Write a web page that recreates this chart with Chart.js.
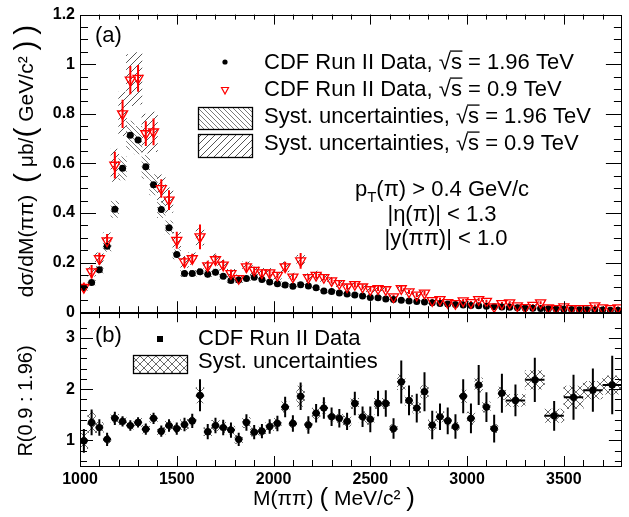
<!DOCTYPE html>
<html><head><meta charset="utf-8">
<script src="https://cdn.jsdelivr.net/npm/chart.js@4.4.1/dist/chart.umd.min.js"></script>
<style>html,body{margin:0;padding:0;background:#fff;}#wrap{position:relative;width:629px;height:517px;}</style>
</head><body><div id="wrap"><canvas id="c" width="629" height="517"></canvas></div>
<script>
// ---------------- data ----------------
const massTop = [1020,1060,1100,1140,1180,1220,1260,1300,1340,1380,1420,1460,1500,1540,1580,1620,1660,1700,1740,1780,
  1820,1860,1900,1940,1980,2020,2060,2100,2140,2180,2220,2260,2300,2340,2380,2420,2460,2500,2540,2580,
  2620,2660,2700,2740,2780,2820,2860,2900,2940,2980,3020,3060,3100,3140,3180,3220,3260,3300,3340,3380,
  3420,3460,3500,3540,3580,3620,3660,3700,3740,3780];
const xsec196 = [0.100,0.120,0.171,0.266,0.415,0.580,0.714,0.694,0.586,0.514,
  0.414,0.341,0.233,0.156,0.156,0.163,0.153,0.161,0.145,0.128,
  0.130,0.136,0.141,0.132,0.122,0.115,0.110,0.105,0.111,0.106,
  0.099,0.085,0.083,0.077,0.073,0.069,0.065,0.059,0.058,0.053,
  0.051,0.048,0.045,0.043,0.041,0.038,0.035,0.033,0.031,0.029,
  0.027,0.026,0.024,0.022,0.021,0.020,0.018,0.017,0.016,0.015,
  0.014,0.013,0.012,0.011,0.010,0.0095,0.009,0.0085,0.008,0.0075];
const xsec09 = [0.100,0.163,0.216,0.288,0.593,0.800,0.936,0.943,0.720,0.727,
  0.499,0.452,0.290,0.203,0.216,0.304,0.187,0.212,0.190,0.156,
  0.136,0.183,0.169,0.159,0.159,0.149,0.183,0.142,0.207,0.140,
  0.149,0.140,0.127,0.116,0.102,0.112,0.102,0.091,0.095,0.091,
  0.062,0.095,0.082,0.069,0.077,0.047,0.051,0.039,0.035,0.046,
  0.039,0.051,0.044,0.022,0.035,0.038,0.026,0.019,0.028,0.038,
  0.018,0.015,0.022,0.015,0.015,0.015,0.026,0.018,0.015,0.018];
const err09 = [0.020,0.027,0.024,0.027,0.054,0.057,0.057,0.054,0.050,0.054,
  0.037,0.040,0.034,0.020,0.020,0.050,0.020,0.020,0.020,0.016,
  0.014,0.020,0.014,0.013,0.013,0.013,0.020,0.013,0.032,0.012,
  0.012,0.012,0.011,0.010,0.010,0.012,0.010,0.009,0.009,0.009,
  0.008,0.012,0.009,0.008,0.010,0.007,0.007,0.006,0.006,0.007,
  0.006,0.007,0.006,0.005,0.006,0.006,0.005,0.005,0.005,0.006,
  0.005,0.004,0.005,0.004,0.004,0.004,0.005,0.004,0.004,0.005];
const SYS_REL_196 = 0.08;   // relative systematic uncertainty, 1.96 TeV
const SYS_REL_09 = 0.11;    // relative systematic uncertainty, 0.9 TeV
const TOP_BIN_HALF = 20;

const massRNarrow = [1020,1060,1100,1140,1180,1220,1260,1300,1340,1380,1420,1460,1500,1540,1580,1620,1660,1700,1740,1780,
  1820,1860,1900,1940,1980,2020,2060,2100,2140,2180,2220,2260,2300,2340,2380,2420,2460,2500,2540,2580,
  2620,2660,2700,2740,2780,2820,2860,2900,2940,2980,3020,3060,3100,3140,3180];
const ratioNarrow = [0.99,1.35,1.25,1.02,1.43,1.37,1.29,1.35,1.22,1.43,
  1.18,1.29,1.23,1.31,1.38,1.88,1.17,1.29,1.25,1.20,
  1.02,1.35,1.16,1.18,1.27,1.33,1.65,1.33,1.86,1.30,
  1.53,1.63,1.46,1.43,1.37,1.72,1.46,1.41,1.72,1.72,
  1.23,2.14,1.78,1.63,1.95,1.30,1.46,1.38,1.27,1.86,
  1.43,2.08,1.65,1.23,1.92];
const errRNarrow = [0.23,0.25,0.16,0.13,0.13,0.10,0.10,0.10,0.11,0.11,
  0.11,0.12,0.12,0.13,0.14,0.31,0.15,0.15,0.15,0.15,
  0.13,0.16,0.14,0.14,0.14,0.15,0.20,0.16,0.27,0.17,
  0.18,0.21,0.18,0.18,0.17,0.23,0.20,0.25,0.25,0.26,
  0.20,0.42,0.29,0.28,0.38,0.28,0.26,0.26,0.24,0.33,
  0.29,0.39,0.29,0.27,0.38];
const sysRNarrow = [0.15,0.20,0.10,0.08,0.08,0.07,0.07,0.08,0.08,0.08,
  0.07,0.08,0.08,0.10,0.08,0.15,0.08,0.10,0.10,0.08,
  0.08,0.10,0.08,0.08,0.08,0.10,0.10,0.08,0.20,0.08,
  0.10,0.10,0.08,0.08,0.10,0.10,0.10,0.10,0.10,0.10,
  0.08,0.15,0.10,0.10,0.12,0.10,0.10,0.08,0.08,0.12,
  0.12,0.14,0.10,0.08,0.12];
const NARROW_HALF = 20;
const massRWide = [3250,3350,3450,3550,3650,3750];
const ratioWide = [1.78,2.18,1.48,1.84,1.98,2.08];
const errRWide = [0.31,0.43,0.29,0.44,0.42,0.57];
const sysRWide = [0.12,0.18,0.13,0.22,0.17,0.18];
const WIDE_HALF = 50;

const xTicks = [1000,1500,2000,2500,3000,3500];
const yTopTicks = [0,0.2,0.4,0.6,0.8,1,1.2];
const yBotTicks = [1,2,3];

// ---------------- helpers ----------------
const FONT = '"Liberation Sans", Arial, Helvetica, sans-serif';
function hatch(kind, color, s, lw) {
  const c = document.createElement('canvas'); c.width = s; c.height = s;
  const g = c.getContext('2d'); g.strokeStyle = color; g.lineWidth = lw; g.beginPath();
  if (kind === '/' || kind === 'x') { g.moveTo(-1, s+1); g.lineTo(s+1, -1); g.moveTo(-2, 2); g.lineTo(2, -2); g.moveTo(s-2, s+2); g.lineTo(s+2, s-2); }
  if (kind === '\\' || kind === 'x') { g.moveTo(-1, -1); g.lineTo(s+1, s+1); g.moveTo(s-2, -2); g.lineTo(s+2, 2); g.moveTo(-2, s-2); g.lineTo(2, s+2); }
  g.stroke();
  return g.createPattern(c, 'repeat');
}
const pat196 = hatch('\\', '#7a7a7a', 5, 1);
const pat09 = hatch('/', '#555555', 7, 1);
const patR = hatch('x', '#6a6a6a', 8, 1);

function setFont(ctx, size, bold) { ctx.font = (bold ? 'bold ' : '') + size + 'px ' + FONT; }
function partSize(p, size) { return p.size ? p.size : ((p.sub || p.sup) ? size * 0.68 : size); }
function measureRuns(ctx, parts, size) {
  let w = 0; for (const p of parts) { setFont(ctx, partSize(p, size)); w += ctx.measureText(p.t).width; } return w;
}
function drawRuns(ctx, x, middle, parts, size, align) {
  const baseline = middle + size * 0.36;
  const w = measureRuns(ctx, parts, size);
  let cx = align === 'center' ? x - w / 2 : x;
  ctx.textAlign = 'left'; ctx.textBaseline = 'alphabetic';
  for (const p of parts) {
    const s = partSize(p, size); setFont(ctx, s);
    const dy = p.sub ? size * 0.28 : (p.sup ? -size * 0.42 : (p.size ? (p.size - size) * 0.3 : 0));
    ctx.fillText(p.t, cx, baseline + dy);
    const tw = ctx.measureText(p.t).width;
    if (p.over) ctx.fillRect(cx - 1, baseline - size * 0.84, tw + 1.5, 1.3);
    cx += tw;
  }
}

// ---------------- derived tables ----------------
function vSegs(xs, ys, es) { const out = []; xs.forEach((m, i) => { out.push({x: m, y: ys[i] - es[i]}, {x: m, y: ys[i] + es[i]}, {x: m, y: null}); }); return out; }
function hSegs(xs, ys, half) { const out = []; xs.forEach((m, i) => { out.push({x: m - half, y: ys[i]}, {x: m + half, y: ys[i]}, {x: m, y: null}); }); return out; }

const dsSys196 = {type: 'bar', yAxisID: 'yTop', grouped: false, order: 20, barThickness: 8, borderWidth: 0,
  backgroundColor: pat196, data: massTop.map((m, i) => ({x: m, y: [xsec196[i] * (1 - SYS_REL_196), xsec196[i] * (1 + SYS_REL_196)]}))};
const dsSys09 = {type: 'bar', yAxisID: 'yTop', grouped: false, order: 19, barThickness: 8, borderWidth: 0,
  backgroundColor: pat09, data: massTop.map((m, i) => ({x: m, y: [xsec09[i] * (1 - SYS_REL_09), xsec09[i] * (1 + SYS_REL_09)]}))};
const dsErr09 = {type: 'line', yAxisID: 'yTop', order: 6, borderColor: '#ff0000', borderWidth: 2, pointRadius: 0, spanGaps: false,
  data: vSegs(massTop, xsec09, err09)};
const ds196 = {type: 'scatter', yAxisID: 'yTop', order: 3, pointStyle: 'circle', pointRadius: 3.5, pointBackgroundColor: '#000',
  pointBorderColor: '#000', pointBorderWidth: 0, data: massTop.map((m, i) => ({x: m, y: xsec196[i]}))};
const ds09 = {type: 'scatter', yAxisID: 'yTop', order: 1, pointStyle: 'triangle', rotation: 180, pointRadius: 5.8,
  pointBackgroundColor: 'rgba(0,0,0,0)', pointBorderColor: '#ff0000', pointBorderWidth: 1.3,
  data: massTop.map((m, i) => ({x: m, y: xsec09[i]}))};

const dsSysRN = {type: 'bar', yAxisID: 'yBot', grouped: false, order: 20, barThickness: 8, borderWidth: 0, backgroundColor: patR,
  data: massRNarrow.map((m, i) => ({x: m, y: [ratioNarrow[i] - sysRNarrow[i], ratioNarrow[i] + sysRNarrow[i]]}))};
const dsSysRW = {type: 'bar', yAxisID: 'yBot', grouped: false, order: 20, barThickness: 20, borderWidth: 0, backgroundColor: patR,
  data: massRWide.map((m, i) => ({x: m, y: [ratioWide[i] - sysRWide[i], ratioWide[i] + sysRWide[i]]}))};
const dsErrR = {type: 'line', yAxisID: 'yBot', order: 6, borderColor: '#000', borderWidth: 2, pointRadius: 0, spanGaps: false,
  data: vSegs(massRNarrow, ratioNarrow, errRNarrow).concat(vSegs(massRWide, ratioWide, errRWide))};
const dsErrRH = {type: 'line', yAxisID: 'yBot', order: 6, borderColor: '#000', borderWidth: 2, pointRadius: 0, spanGaps: false,
  data: hSegs(massRNarrow, ratioNarrow, NARROW_HALF).concat(hSegs(massRWide, ratioWide, WIDE_HALF))};
const dsR = {type: 'scatter', yAxisID: 'yBot', order: 2, pointStyle: 'circle', pointRadius: 3.6, pointBackgroundColor: '#000',
  pointBorderWidth: 0, data: massRNarrow.map((m, i) => ({x: m, y: ratioNarrow[i]})).concat(massRWide.map((m, i) => ({x: m, y: ratioWide[i]})))};

// ---------------- decorations plugin ----------------
const deco = {
  id: 'deco',
  afterDraw(chart) {
    const ctx = chart.ctx; const x = chart.scales.x, yT = chart.scales.yTop, yB = chart.scales.yBot;
    ctx.save();
    ctx.strokeStyle = '#000'; ctx.fillStyle = '#000'; ctx.lineWidth = 1;
    const L = x.left, R = x.right;
    const px = v => Math.round(x.getPixelForValue(v)) + 0.5;
    function line(a, b, c, d) { ctx.beginPath(); ctx.moveTo(a, b); ctx.lineTo(c, d); ctx.stroke(); }
    [yT, yB].forEach(ys => ctx.strokeRect(Math.round(L) + 0.5, Math.round(ys.top) + 0.5, Math.round(R - L) - 1, Math.round(ys.bottom - ys.top)));
    for (let v = 1100; v < 3800; v += 100) {
      const maj = v % 500 === 0; const p = px(v);
      line(p, yT.bottom, p, yT.bottom - (maj ? 11 : 6));
      line(p, yT.top, p, yT.top + (maj ? 10 : 5));
      line(p, yB.bottom, p, yB.bottom - (maj ? 10 : 6));
      line(p, yB.top, p, yB.top + (maj ? 10 : 6));
    }
    for (let k = 1; k < 24; k++) {
      const v = k * 0.05; const p = Math.round(yT.getPixelForValue(v)) + 0.5; const len = (k % 4 === 0) ? 16 : 8;
      line(L, p, L + len, p); line(R, p, R - len, p);
    }
    for (let k = 1; k < 15; k++) {
      const v = 0.6 + (k - 1) * 0.2; if (v > 3.45) break;
      const p = Math.round(yB.getPixelForValue(v)) + 0.5; const maj = Math.abs(v - Math.round(v)) < 1e-6; const len = maj ? 13 : 7;
      line(L, p, L + len, p); line(R, p, R - len, p);
    }
    ctx.fillStyle = '#000';
    drawRuns(ctx, 95, 34, [{t: '(a)'}], 22, 'left');
    drawRuns(ctx, 95, 334, [{t: '(b)'}], 22, 'left');
    const LS = 22, LX = 264;
    ctx.beginPath(); ctx.arc(225, 62, 2.6, 0, Math.PI * 2); ctx.fill();
    ctx.beginPath(); ctx.strokeStyle = '#ff0000'; ctx.lineWidth = 1.2;
    ctx.moveTo(221.5, 87.5); ctx.lineTo(228.5, 87.5); ctx.lineTo(225, 94); ctx.closePath(); ctx.stroke();
    ctx.strokeStyle = '#000'; ctx.lineWidth = 1.3;
    ctx.fillStyle = pat196; ctx.fillRect(198, 107, 54, 22); ctx.strokeRect(198.5, 107.5, 54, 22);
    ctx.fillStyle = pat09; ctx.fillRect(198, 134, 54, 23); ctx.strokeRect(198.5, 134.5, 54, 23);
    ctx.fillStyle = '#000';
    drawRuns(ctx, LX, 61, [{t: 'CDF Run II Data, √'}, {t: 's', over: true}, {t: ' = 1.96 TeV'}], LS, 'left');
    drawRuns(ctx, LX, 88, [{t: 'CDF Run II Data, √'}, {t: 's', over: true}, {t: ' = 0.9 TeV'}], LS, 'left');
    drawRuns(ctx, LX, 115, [{t: 'Syst. uncertainties, √'}, {t: 's', over: true}, {t: ' = 1.96 TeV'}], LS, 'left');
    drawRuns(ctx, LX, 142, [{t: 'Syst. uncertainties, √'}, {t: 's', over: true}, {t: ' = 0.9 TeV'}], LS, 'left');
    drawRuns(ctx, 355, 188, [{t: 'p'}, {t: 'T', sub: true}, {t: '(π) > 0.4 GeV/c'}], 22, 'left');
    drawRuns(ctx, 442, 213, [{t: '|η(π)| < 1.3'}], 22, 'center');
    drawRuns(ctx, 446, 237, [{t: '|y(ππ)| < 1.0'}], 22, 'center');
    ctx.fillRect(157, 336, 6, 6);
    ctx.fillStyle = patR; ctx.fillRect(133, 355, 54, 18); ctx.strokeRect(133.5, 355.5, 54, 18);
    ctx.fillStyle = '#000';
    drawRuns(ctx, 198, 337, [{t: 'CDF Run II Data'}], 22, 'left');
    drawRuns(ctx, 198, 360, [{t: 'Syst. uncertainties'}], 22, 'left');
    drawRuns(ctx, 334, 497, [{t: 'M(ππ) '}, {t: '(', size: 26}, {t: ' MeV/c² '}, {t: ')', size: 26}], 21, 'center');
    ctx.save(); ctx.translate(25, 161); ctx.rotate(-Math.PI / 2);
    drawRuns(ctx, 0, 0, [{t: 'dσ/dM(ππ)  '}, {t: '(', size: 30}, {t: ' μb/'}, {t: '(', size: 30}, {t: ' GeV/c² '}, {t: ')', size: 30}, {t: ' '}, {t: ')', size: 30}], 21, 'center');
    ctx.restore();
    ctx.save(); ctx.translate(25, 401); ctx.rotate(-Math.PI / 2);
    drawRuns(ctx, 0, 0, [{t: 'R(0.9 : 1.96)'}], 20, 'center');
    ctx.restore();
    ctx.restore();
  }
};

const tickFont = {size: 16, weight: 'bold', family: FONT};
const fmt = v => String(+Number(v).toFixed(2));
const chart = new Chart(document.getElementById('c'), {
  type: 'scatter',
  data: {datasets: [ds09, dsR, ds196, dsErr09, dsErrR, dsErrRH, dsSys09, dsSys196, dsSysRN, dsSysRW]},
  options: {
    responsive: false, animation: false, events: [],
    layout: {padding: {left: 0, right: 1, top: 14, bottom: 0}},
    plugins: {legend: {display: false}, tooltip: {enabled: false}},
    scales: {
      x: {type: 'linear', position: 'bottom', min: 1000, max: 3800, offset: false,
        grid: {display: false, drawTicks: false}, border: {display: false},
        ticks: {font: tickFont, color: '#000', padding: 4, maxRotation: 0, autoSkip: false, callback: v => String(v)},
        afterBuildTicks: s => { s.ticks = xTicks.map(v => ({value: v})); },
        afterFit: s => { s.height = 51; }},
      yBot: {type: 'linear', position: 'left', stack: 'panels', stackWeight: 154, weight: 0, min: 0.5, max: 3.5,
        grid: {display: false, drawTicks: false}, border: {display: false},
        ticks: {font: tickFont, color: '#000', padding: 5, autoSkip: false, callback: fmt},
        afterBuildTicks: s => { s.ticks = yBotTicks.map(v => ({value: v})); },
        afterFit: s => { s.width = 80; }},
      yTop: {type: 'linear', position: 'left', stack: 'panels', stackWeight: 298, weight: 1, min: 0, max: 1.2,
        grid: {display: false, drawTicks: false}, border: {display: false},
        ticks: {font: tickFont, color: '#000', padding: 5, autoSkip: false, callback: fmt},
        afterBuildTicks: s => { s.ticks = yTopTicks.map(v => ({value: v})); },
        afterFit: s => { s.width = 80; }}
    }
  },
  plugins: [deco]
});
const xs = chart.scales.x;
const binPx = half => xs.getPixelForValue(1000 + 2 * half) - xs.getPixelForValue(1000);
dsSys196.barThickness = binPx(TOP_BIN_HALF);
dsSys09.barThickness = binPx(TOP_BIN_HALF);
dsSysRN.barThickness = binPx(NARROW_HALF);
dsSysRW.barThickness = binPx(WIDE_HALF);
chart.update('none');
</script></body></html>
